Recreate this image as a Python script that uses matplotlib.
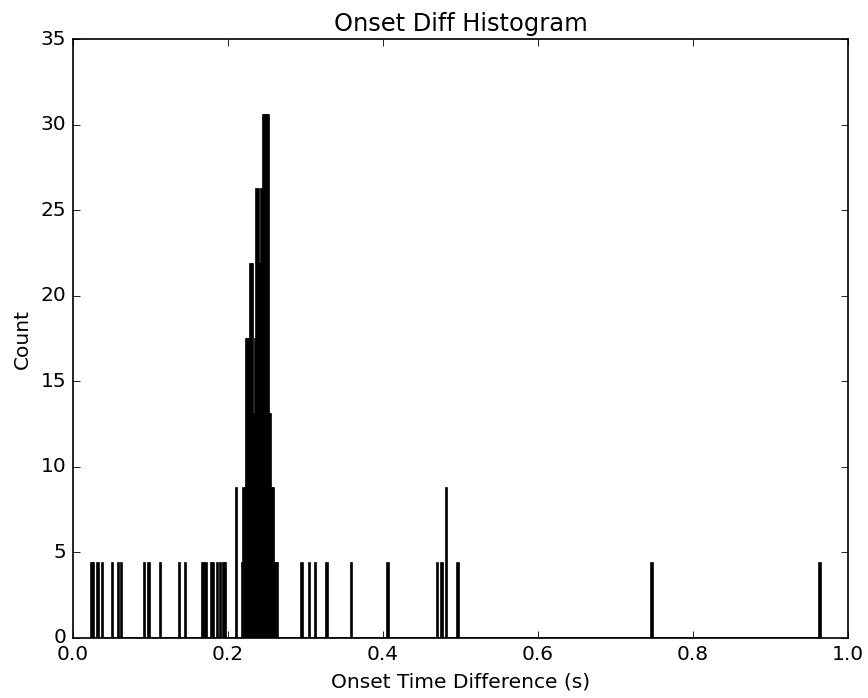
import numpy as np
import matplotlib
matplotlib.use("Agg")
import matplotlib.pyplot as plt

plt.style.use("classic")

# onset time differences (s) and how many onsets fall at each value
onset_diff = [
    0.02374, 0.02658, 0.03265, 0.03806, 0.05123, 0.05768, 0.06323,
    0.09161, 0.09806, 0.11226, 0.13806, 0.14581, 0.16774, 0.17097,
    0.17806, 0.18129, 0.18710, 0.19032, 0.19419, 0.19677, 0.21123,
    0.21853, 0.22041, 0.22229, 0.22418, 0.22606, 0.22794, 0.22982,
    0.23170, 0.23359, 0.23547, 0.23735, 0.23923, 0.24111, 0.24300,
    0.24488, 0.24676, 0.24864, 0.25052, 0.25241, 0.25429, 0.25617,
    0.25805, 0.25993, 0.26182, 0.26370,
    0.29548, 0.30490, 0.31187, 0.32748, 0.35961, 0.40645, 0.47058,
    0.47613, 0.48168, 0.49768, 0.74670, 0.96460,
]
onset_count = [
    1, 1, 1, 1, 1, 1, 1,
    1, 1, 1, 1, 1, 1, 1,
    1, 1, 1, 1, 1, 1, 2,
    1, 2, 2, 4, 4, 4, 5,
    5, 3, 4, 6, 6, 5, 6,
    6, 7, 7, 7, 7, 3, 2,
    2, 1, 1, 1,
    1, 1, 1, 1, 1, 1, 1,
    1, 2, 1, 1, 1,
]
# normed height of one onset in a bin
height_per_onset = 4.37
n_bins = 500

dpi = 121
fig = plt.figure(figsize=(868 / dpi, 698 / dpi), dpi=dpi)
ax = fig.add_axes([0.0841, 0.086, 0.8929, 0.858])

weights = np.array(onset_count) * height_per_onset
ax.hist(onset_diff, bins=n_bins, weights=weights, color="k", edgecolor="k")

ax.set_xlim(0, 1.0)
ax.set_ylim(0, 35)
ax.set_xticks([0.0, 0.2, 0.4, 0.6, 0.8, 1.0])
ax.set_yticks(range(0, 36, 5))
ax.set_title("Onset Diff Histogram")
ax.set_xlabel("Onset Time Difference (s)")
ax.set_ylabel("Count")

fig.savefig("out.png", dpi=dpi)
